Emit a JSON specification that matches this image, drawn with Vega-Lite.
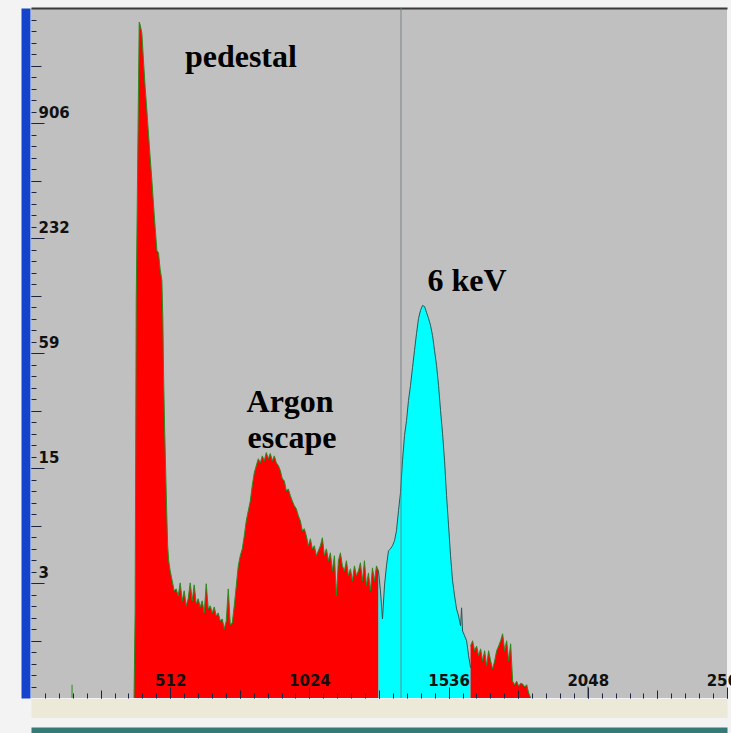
{
  "$schema": "https://vega.github.io/schema/vega-lite/v6.json",
  "autosize": {"type": "none"},
  "padding": {"left": 31, "top": 8, "right": 4, "bottom": 35},
  "width": 696,
  "height": 690,
  "background": "#f3f3f3",
  "config": {
    "view": {"fill": "#c0c0c0", "stroke": null},
    "axis": {"domain": false, "grid": false, "title": null, "labelFont": "DejaVu Sans", "labelFontWeight": "bold", "labelFontSize": 15, "labelColor": "#111111", "tickColor": "#1c2440", "tickWidth": 1, "labelOverlap": false, "labelFlush": false, "labelBound": false}
  },
  "datasets": {
    "hist": [
      {"ch":379,"v":1,"seg":"r1"},{"ch":383,"v":2.81,"seg":"r1"},{"ch":387,"v":110.8,"seg":"r1"},{"ch":393,"v":681,"seg":"r1"},{"ch":398,"v":2995,"seg":"r1"},{"ch":401.4,"v":2900,"seg":"r1"},{"ch":407.7,"v":2630,"seg":"r1"},{"ch":413.6,"v":1910,"seg":"r1"},{"ch":419.9,"v":1386,"seg":"r1"},{"ch":426.1,"v":1055,"seg":"r1"},{"ch":432,"v":803,"seg":"r1"},{"ch":438.3,"v":604,"seg":"r1"},{"ch":444.6,"v":460,"seg":"r1"},{"ch":450.4,"v":350,"seg":"r1"},{"ch":456.7,"v":263,"seg":"r1"},{"ch":463,"v":200.5,"seg":"r1"},{"ch":468.9,"v":195,"seg":"r1"},{"ch":475.1,"v":160,"seg":"r1"},{"ch":481.4,"v":140.5,"seg":"r1"},{"ch":485.1,"v":87.5,"seg":"r1"},{"ch":488,"v":42.9,"seg":"r1"},{"ch":491.7,"v":23.7,"seg":"r1"},{"ch":495.4,"v":14.8,"seg":"r1"},{"ch":499,"v":9.19,"seg":"r1"},{"ch":502.7,"v":6.07,"seg":"r1"},{"ch":506.4,"v":5.08,"seg":"r1"},{"ch":511.9,"v":4.51,"seg":"r1"},{"ch":519.3,"v":4.01,"seg":"r1"},{"ch":526.7,"v":3.56,"seg":"r1"},
      {"ch":534,"v":3.64,"seg":"r1"},{"ch":541.4,"v":3.35,"seg":"r1"},{"ch":548.8,"v":3.91,"seg":"r1"},{"ch":556.1,"v":3.16,"seg":"r1"},{"ch":563.5,"v":3.56,"seg":"r1"},{"ch":570.9,"v":2.98,"seg":"r1"},{"ch":578.2,"v":3.24,"seg":"r1"},{"ch":585.6,"v":3.91,"seg":"r1"},{"ch":593,"v":3.16,"seg":"r1"},{"ch":600.3,"v":3.82,"seg":"r1"},{"ch":607.7,"v":3.05,"seg":"r1"},{"ch":615,"v":3.24,"seg":"r1"},{"ch":622.4,"v":2.94,"seg":"r1"},{"ch":629.8,"v":3.16,"seg":"r1"},{"ch":637.2,"v":2.74,"seg":"r1"},{"ch":644.5,"v":3.87,"seg":"r1"},{"ch":651.9,"v":2.87,"seg":"r1"},{"ch":659.3,"v":2.98,"seg":"r1"},{"ch":666.6,"v":2.74,"seg":"r1"},{"ch":674,"v":2.94,"seg":"r1"},{"ch":681.4,"v":2.64,"seg":"r1"},{"ch":688.7,"v":2.74,"seg":"r1"},{"ch":696.1,"v":2.49,"seg":"r1"},{"ch":703.5,"v":2.55,"seg":"r1"},{"ch":710.8,"v":2.27,"seg":"r1"},{"ch":718.2,"v":2.49,"seg":"r1"},{"ch":725.6,"v":3.64,"seg":"r1"},{"ch":733,"v":2.38,"seg":"r1"},{"ch":740.3,"v":2.43,"seg":"r1"},
      {"ch":747.6,"v":2.98,"seg":"r1"},{"ch":755,"v":3.77,"seg":"r1"},{"ch":762.4,"v":4.78,"seg":"r1"},{"ch":769.7,"v":5.39,"seg":"r1"},{"ch":777.1,"v":5.85,"seg":"r1"},{"ch":784.5,"v":6.83,"seg":"r1"},{"ch":791.8,"v":8.16,"seg":"r1"},{"ch":799.2,"v":9.19,"seg":"r1"},{"ch":806.6,"v":10.3,"seg":"r1"},{"ch":813.9,"v":12.4,"seg":"r1"},{"ch":821.3,"v":14.4,"seg":"r1"},{"ch":828.7,"v":15.7,"seg":"r1"},{"ch":836,"v":17.0,"seg":"r1"},{"ch":843.4,"v":16.2,"seg":"r1"},{"ch":850.8,"v":17.6,"seg":"r1"},{"ch":858.1,"v":16.6,"seg":"r1"},{"ch":865.5,"v":18.3,"seg":"r1"},{"ch":872.9,"v":17.0,"seg":"r1"},{"ch":880.2,"v":18.1,"seg":"r1"},{"ch":887.6,"v":16.6,"seg":"r1"},{"ch":895,"v":17.6,"seg":"r1"},{"ch":902.3,"v":16.2,"seg":"r1"},{"ch":909.7,"v":15.7,"seg":"r1"},{"ch":917.1,"v":14.8,"seg":"r1"},{"ch":924.4,"v":13.4,"seg":"r1"},{"ch":931.8,"v":13.1,"seg":"r1"},{"ch":939.2,"v":11.6,"seg":"r1"},{"ch":946.5,"v":11.9,"seg":"r1"},{"ch":953.9,"v":11.0,"seg":"r1"},{"ch":961.3,"v":10.3,"seg":"r1"},{"ch":968.6,"v":9.75,"seg":"r1"},{"ch":976,"v":9.40,"seg":"r1"},{"ch":983.4,"v":8.65,"seg":"r1"},{"ch":990.7,"v":8.16,"seg":"r1"},{"ch":998.1,"v":7.25,"seg":"r1"},{"ch":1005.5,"v":7.42,"seg":"r1"},{"ch":1012.8,"v":6.83,"seg":"r1"},{"ch":1020.2,"v":6.07,"seg":"r1"},{"ch":1027.6,"v":6.59,"seg":"r1"},{"ch":1034.9,"v":5.85,"seg":"r1"},{"ch":1042.3,"v":6.07,"seg":"r1"},{"ch":1049.7,"v":5.39,"seg":"r1"},{"ch":1057,"v":5.72,"seg":"r1"},{"ch":1064.4,"v":6.07,"seg":"r1"},{"ch":1071.8,"v":6.67,"seg":"r1"},{"ch":1079.1,"v":5.39,"seg":"r1"},{"ch":1086.5,"v":5.85,"seg":"r1"},{"ch":1093.9,"v":5.08,"seg":"r1"},{"ch":1101.2,"v":5.58,"seg":"r1"},{"ch":1108.6,"v":4.51,"seg":"r1"},{"ch":1116,"v":5.39,"seg":"r1"},{"ch":1123.3,"v":3.35,"seg":"r1"},{"ch":1130.7,"v":5.08,"seg":"r1"},{"ch":1138.1,"v":5.58,"seg":"r1"},{"ch":1145.4,"v":4.78,"seg":"r1"},{"ch":1152.8,"v":4.51,"seg":"r1"},{"ch":1160.2,"v":5.08,"seg":"r1"},{"ch":1167.5,"v":4.25,"seg":"r1"},{"ch":1174.9,"v":4.62,"seg":"r1"},{"ch":1182.3,"v":4.01,"seg":"r1"},{"ch":1189.6,"v":4.78,"seg":"r1"},{"ch":1197,"v":4.25,"seg":"r1"},{"ch":1204.4,"v":4.51,"seg":"r1"},{"ch":1211.7,"v":4.96,"seg":"r1"},{"ch":1219.1,"v":4.01,"seg":"r1"},{"ch":1226.5,"v":5.08,"seg":"r1"},{"ch":1233.8,"v":3.77,"seg":"r1"},{"ch":1241.2,"v":4.40,"seg":"r1"},{"ch":1248.6,"v":3.56,"seg":"r1"},{"ch":1255.9,"v":4.67,"seg":"r1"},{"ch":1263.3,"v":4.01,"seg":"r1"},{"ch":1270.7,"v":4.78,"seg":"r1"},{"ch":1278,"v":4.51,"seg":"r1"},
      {"ch":1278,"v":4.51,"seg":"cy"},{"ch":1285.4,"v":3.56,"seg":"cy"},{"ch":1292.8,"v":2.55,"seg":"cy"},{"ch":1300.1,"v":3.77,"seg":"cy"},{"ch":1307.5,"v":4.78,"seg":"cy"},{"ch":1314.9,"v":5.72,"seg":"cy"},{"ch":1322.2,"v":5.85,"seg":"cy"},{"ch":1329.6,"v":6.07,"seg":"cy"},{"ch":1337,"v":6.44,"seg":"cy"},{"ch":1344.3,"v":7.25,"seg":"cy"},{"ch":1351.7,"v":9.19,"seg":"cy"},{"ch":1359.1,"v":11.4,"seg":"cy"},{"ch":1366.4,"v":16.6,"seg":"cy"},{"ch":1373.8,"v":22.4,"seg":"cy"},{"ch":1381.2,"v":26.7,"seg":"cy"},{"ch":1388.5,"v":33.9,"seg":"cy"},{"ch":1395.9,"v":40.5,"seg":"cy"},{"ch":1403.3,"v":50.1,"seg":"cy"},{"ch":1410.6,"v":61.3,"seg":"cy"},{"ch":1418,"v":75.0,"seg":"cy"},{"ch":1425.4,"v":89.6,"seg":"cy"},{"ch":1432.7,"v":98.5,"seg":"cy"},{"ch":1440.1,"v":104.5,"seg":"cy"},{"ch":1447.5,"v":103.2,"seg":"cy"},{"ch":1454.8,"v":96.2,"seg":"cy"},{"ch":1462.2,"v":89.6,"seg":"cy"},{"ch":1469.6,"v":82.4,"seg":"cy"},{"ch":1476.9,"v":73.2,"seg":"cy"},{"ch":1484.3,"v":61.3,"seg":"cy"},{"ch":1491.7,"v":51.3,"seg":"cy"},{"ch":1499,"v":40.5,"seg":"cy"},{"ch":1506.4,"v":30.1,"seg":"cy"},{"ch":1513.8,"v":22.9,"seg":"cy"},{"ch":1521.1,"v":16.6,"seg":"cy"},{"ch":1528.5,"v":11.0,"seg":"cy"},{"ch":1535.9,"v":7.69,"seg":"cy"},{"ch":1543.2,"v":5.39,"seg":"cy"},{"ch":1550.6,"v":4.01,"seg":"cy"},{"ch":1558,"v":3.35,"seg":"cy"},{"ch":1565.3,"v":2.87,"seg":"cy"},{"ch":1572.7,"v":2.64,"seg":"cy"},{"ch":1580.1,"v":2.35,"seg":"cy"},{"ch":1583.8,"v":2.91,"seg":"cy"},{"ch":1587.4,"v":2.21,"seg":"cy"},{"ch":1594.8,"v":2.09,"seg":"cy"},{"ch":1602.2,"v":1.97,"seg":"cy"},{"ch":1609.5,"v":1.65,"seg":"cy"},{"ch":1616.9,"v":1.43,"seg":"cy"},
      {"ch":1616.9,"v":1.85,"seg":"r2"},{"ch":1624.3,"v":1.97,"seg":"r2"},{"ch":1631.6,"v":1.75,"seg":"r2"},{"ch":1639,"v":1.85,"seg":"r2"},{"ch":1646.4,"v":1.65,"seg":"r2"},{"ch":1653.7,"v":1.79,"seg":"r2"},{"ch":1661.1,"v":1.55,"seg":"r2"},{"ch":1668.5,"v":1.75,"seg":"r2"},{"ch":1675.8,"v":1.46,"seg":"r2"},{"ch":1683.2,"v":1.75,"seg":"r2"},{"ch":1690.6,"v":1.55,"seg":"r2"},{"ch":1697.9,"v":1.41,"seg":"r2"},{"ch":1705.3,"v":1.55,"seg":"r2"},{"ch":1712.7,"v":1.75,"seg":"r2"},{"ch":1720,"v":1.85,"seg":"r2"},{"ch":1727.4,"v":1.97,"seg":"r2"},{"ch":1734.8,"v":2.14,"seg":"r2"},{"ch":1742.1,"v":1.75,"seg":"r2"},{"ch":1749.5,"v":1.97,"seg":"r2"},{"ch":1756.9,"v":1.55,"seg":"r2"},{"ch":1764.2,"v":1.90,"seg":"r2"},{"ch":1771.6,"v":1.22,"seg":"r2"},{"ch":1779,"v":1.17,"seg":"r2"},{"ch":1786.3,"v":1.22,"seg":"r2"},{"ch":1793.7,"v":1.15,"seg":"r2"},{"ch":1801.1,"v":1.19,"seg":"r2"},{"ch":1808.4,"v":1.18,"seg":"r2"},{"ch":1815.8,"v":1.14,"seg":"r2"},{"ch":1823.2,"v":1.17,"seg":"r2"},{"ch":1830.5,"v":1.06,"seg":"r2"},{"ch":1837.9,"v":1,"seg":"r2"}
    ],
    "spikes": [{"ch": 151, "v": 1.17}, {"ch": 2048, "v": 1.15}],
    "cursor": [{"ch": 1361}],
    "labelsA": [{"ch": 772, "v": 1762, "label": "pedestal"}, {"ch": 1604, "v": 124, "label": "6 keV"}],
    "labelsB": [{"ch": 953, "v": 29.6, "label": "Argon"}, {"ch": 960, "v": 19.3, "label": "escape"}]
  },
  "resolve": {"axis": {"x": "independent", "y": "independent"}},
  "layer": [
    {
      "data": {"name": "hist"},
      "mark": {"type": "area", "interpolate": "linear"},
      "encoding": {
        "x": {"field": "ch", "type": "quantitative", "scale": {"domain": [0, 2560], "nice": false, "zero": false},
              "axis": {"orient": "bottom", "zindex": 1, "values": [512, 1024, 1536, 2048, 2560], "format": "d", "tickSize": -11, "labelPadding": -2, "labelBaseline": "alphabetic", "labelAlign": "center"}},
        "y": {"field": "v", "type": "quantitative", "scale": {"type": "log", "domain": [1, 3540], "nice": false},
              "axis": {"orient": "left", "zindex": 1, "values": [3.9033, 15.236, 59.471, 232.13, 906.05], "labelExpr": "'' + floor(datum.value)", "tickSize": -13, "labelPadding": 6, "labelAlign": "left", "labelBaseline": "alphabetic", "labelOffset": -6}},
        "y2": {"datum": 1},
        "color": {"field": "seg", "type": "nominal", "scale": {"domain": ["r1", "cy", "r2"], "range": ["#ff0000", "#00ffff", "#ff0000"]}, "legend": null}
      }
    },
    {
      "data": {"name": "hist"},
      "mark": {"type": "line", "strokeWidth": 1, "interpolate": "linear"},
      "encoding": {
        "x": {"field": "ch", "type": "quantitative",
              "axis": {"orient": "bottom", "zindex": 1, "values": [256, 768, 1280, 1792, 2304], "labels": false, "tickSize": -8}},
        "y": {"field": "v", "type": "quantitative",
              "axis": {"orient": "left", "zindex": 1, "values": [1.9757, 7.7118, 30.102, 117.50, 458.62, 1790.0], "labels": false, "tickSize": -10}},
        "stroke": {"field": "seg", "type": "nominal", "scale": {"domain": ["r1", "cy", "r2"], "range": ["#2b8a1e", "#2a5858", "#2b8a1e"]}, "legend": null}
      }
    },
    {
      "data": {"name": "spikes"},
      "mark": {"type": "rule", "color": "#2b8a1e", "strokeWidth": 1},
      "encoding": {
        "x": {"field": "ch", "type": "quantitative",
              "axis": {"orient": "bottom", "zindex": 1, "labels": false, "tickSize": -5, "values": [51.2,102.4,153.6,204.8,256,307.2,358.4,409.6,460.8,512,563.2,614.4,665.6,716.8,768,819.2,870.4,921.6,972.8,1024,1075.2,1126.4,1177.6,1228.8,1280,1331.2,1382.4,1433.6,1484.8,1536,1587.2,1638.4,1689.6,1740.8,1792,1843.2,1894.4,1945.6,1996.8,2048,2099.2,2150.4,2201.6,2252.8,2304,2355.2,2406.4,2457.6,2508.8,2560]}},
        "y": {"field": "v", "type": "quantitative",
              "axis": {"orient": "left", "zindex": 1, "labels": false, "tickSize": -5, "values": [1.1459,1.3131,1.5046,1.7241,1.9757,2.2639,2.5942,2.9727,3.4063,3.9033,4.4728,5.1254,5.8729,6.7297,7.7118,8.8367,10.126,11.603,13.296,15.236,17.459,20.006,22.924,26.268,30.102,34.493,39.525,45.292,51.898,59.471,68.148,78.092,89.480,102.53,117.50,134.64,154.28,176.79,202.58,232.13,266.0,304.81,349.26,400.22,458.62,525.52,602.19,690.05,790.70,906.05,1038.2,1189.7,1363.2,1562.0,1790.0,2051.1,2350.4,2693.3,3086.2]}},
        "y2": {"datum": 1}
      }
    },
    {
      "data": {"name": "cursor"},
      "mark": {"type": "rule", "color": "#6b7b7c", "strokeWidth": 1, "opacity": 0.85},
      "encoding": {
        "x": {"field": "ch", "type": "quantitative",
              "axis": {"orient": "bottom", "labels": false, "ticks": false, "domain": true, "domainColor": "#ece9d8", "domainWidth": 19, "offset": 10}}
      }
    },
    {
      "data": {"name": "labelsA"},
      "mark": {"type": "text", "font": "Liberation Serif", "fontWeight": "bold", "fontSize": 32, "color": "#000000", "align": "center", "baseline": "alphabetic"},
      "encoding": {
        "x": {"field": "ch", "type": "quantitative",
              "axis": {"orient": "top", "labels": false, "ticks": false, "domain": true, "domainColor": "#3a3a3a", "domainWidth": 2}},
        "y": {"field": "v", "type": "quantitative",
              "axis": {"orient": "left", "labels": false, "ticks": false, "domain": true, "domainColor": "#1544cc", "domainWidth": 9, "offset": 5.5}},
        "text": {"field": "label", "type": "nominal"}
      }
    },
    {
      "data": {"name": "labelsB"},
      "mark": {"type": "text", "font": "Liberation Serif", "fontWeight": "bold", "fontSize": 32, "color": "#000000", "align": "center", "baseline": "alphabetic"},
      "encoding": {
        "x": {"field": "ch", "type": "quantitative",
              "axis": {"orient": "bottom", "labels": false, "ticks": false, "domain": true, "domainColor": "#357a76", "domainWidth": 8, "offset": 33}},
        "y": {"field": "v", "type": "quantitative", "axis": null},
        "text": {"field": "label", "type": "nominal"}
      }
    }
  ]
}
